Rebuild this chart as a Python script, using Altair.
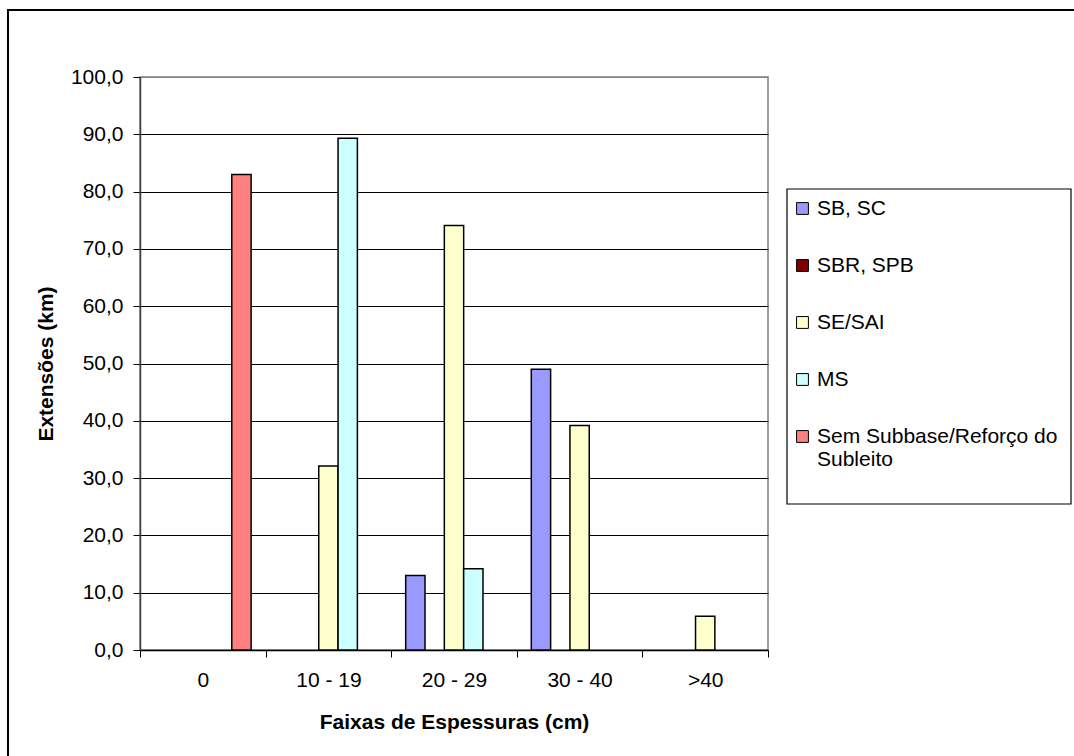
import altair as alt
import pandas as pd

categories = ["0", "10 - 19", "20 - 29", "30 - 40", ">40"]
series = ["SB, SC", "SBR, SPB", "SE/SAI", "MS", "Sem Subbase/Reforço do Subleito"]
sb_sc = [0, 0, 13.0, 49.0, 0]
sbr_spb = [0, 0, 0, 0, 0]
se_sai = [0, 32.1, 74.1, 39.2, 5.9]
ms = [0, 89.3, 14.2, 0, 0]
sem = [83.0, 0, 0, 0, 0]
colors = ["#9999FF", "#800000", "#FFFFCC", "#CCFFFF", "#FF8080"]
y_ticks = [0, 10, 20, 30, 40, 50, 60, 70, 80, 90, 100]

rows = []
for s, vals in zip(series, [sb_sc, sbr_spb, se_sai, ms, sem]):
    for c, v in zip(categories, vals):
        if v > 0:
            rows.append({"cat": c, "serie": s, "value": v})
df = pd.DataFrame(rows)

W, H = 628, 573
LEFT, TOP = 140, 77
FONT = "Liberation Sans"

bars = alt.Chart(df).mark_bar(stroke="black", strokeWidth=1.5).encode(
    x=alt.X(
        "cat:N",
        sort=categories,
        scale=alt.Scale(domain=categories, paddingInner=0, paddingOuter=0),
        axis=alt.Axis(
            title="Faixas de Espessuras (cm)",
            tickBand="extent",
            labelAngle=0,
            tickSize=7,
            tickColor="#000000",
            domainColor="#000000",
            domainWidth=1.5,
            labelPadding=12,
            labelBaseline="top",
            grid=False,
            titleX=314,
            titleY=72,
            titleBaseline="middle",
            titleAlign="center",
        ),
    ),
    xOffset=alt.XOffset(
        "serie:N", scale=alt.Scale(domain=series, paddingInner=0, paddingOuter=0.75)
    ),
    y=alt.Y(
        "value:Q",
        scale=alt.Scale(domain=[0, 100], nice=False),
        axis=alt.Axis(
            title="Extensões (km)",
            values=y_ticks,
            labelExpr="replace(format(datum.value, '.1f'), '.', ',')",
            tickSize=7,
            tickColor="#000000",
            domainColor="#404040",
            domainWidth=1.5,
            labelPadding=10,
            gridColor={"condition": {"test": "datum.value === 100", "value": "#808080"}, "value": "#000000"},
            gridWidth=1,
            titleX=-94,
            titleY=H / 2,
            titleBaseline="middle",
            titleAlign="center",
        ),
    ),
    color=alt.Color(
        "serie:N",
        scale=alt.Scale(domain=series, range=colors),
        legend=alt.Legend(
            title=None,
            orient="none",
            legendX=652,
            legendY=121,
            direction="vertical",
            symbolType="square",
            symbolSize=140,
            symbolStrokeColor="#000000",
            symbolStrokeWidth=1,
            symbolOpacity=1,
            labelFontSize=21,
            labelFont=FONT,
            labelColor="#000000",
            labelOffset=4,
            labelLimit=400,
            rowPadding=35,
            labelExpr="indexof(datum.label, 'Sem') == 0 ? ['Sem Subbase/Reforço do', 'Subleito'] : datum.label",
        ),
    ),
)

one = pd.DataFrame({"a": [0]})
frame = alt.Chart(one).mark_rect(fill="white", fillOpacity=0, stroke="black", strokeWidth=2).encode(
    x=alt.value(8 - LEFT), x2=alt.value(1074 - LEFT + 20),
    y=alt.value(10 - TOP), y2=alt.value(756 - TOP + 20),
)
legend_box = alt.Chart(one).mark_rect(fill="white", fillOpacity=0, stroke="black", strokeWidth=1.2).encode(
    x=alt.value(647), x2=alt.value(931),
    y=alt.value(112), y2=alt.value(427),
)

chart = alt.layer(frame, legend_box, bars).properties(
    width=W,
    height=H,
    autosize=alt.AutoSizeParams(type="none"),
    padding={"left": LEFT, "top": TOP, "right": 1074 - LEFT - W, "bottom": 756 - TOP - H},
    background="white",
).configure_view(
    stroke="#808080", strokeWidth=1.5
).configure_axis(
    labelFont=FONT,
    labelFontSize=21,
    labelColor="#000000",
    titleFont=FONT,
    titleFontSize=21,
    titleFontWeight="bold",
    titleColor="#000000",
)

chart.save("out.html", embed_options={"renderer": "svg", "actions": False})
